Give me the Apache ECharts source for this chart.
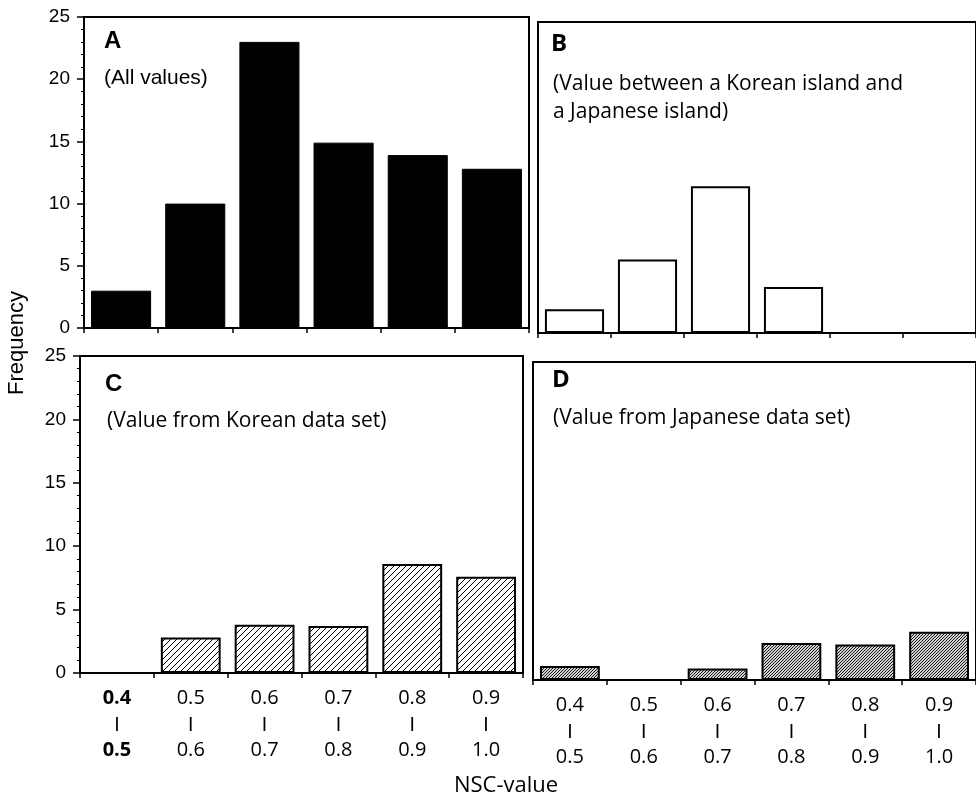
<!DOCTYPE html>
<html>
<head>
<meta charset="utf-8">
<title>NSC-value frequency</title>
<script src="https://cdn.jsdelivr.net/npm/echarts@6/dist/echarts.min.js"></script>
<style>
  html, body { margin: 0; padding: 0; background: #fff; }
  #chart { width: 976px; height: 801px; }
</style>
</head>
<body>
<div id="chart"></div>
<script type="text/javascript">
	// bins (lower / upper bound of each NSC class)
	var binLow  = ['0.4', '0.5', '0.6', '0.7', '0.8', '0.9'];
	var binHigh = ['0.5', '0.6', '0.7', '0.8', '0.9', '1.0'];
	var yTicks = [0, 5, 10, 15, 20, 25];

	// frequencies
	var allValues      = [3, 10, 23, 14.9, 13.9, 12.8];
	var betweenIslands = [1.9, 5.9, 11.8, 3.7, 0, 0];
	var koreanSet      = [0, 2.8, 3.8, 3.7, 8.6, 7.6];
	var japaneseSet    = [1.1, 0, 0.9, 2.9, 2.8, 3.8];

	var categories = binLow.map(function (v, i) { return v + '-' + binHigh[i]; });

	// hatch fills
	function hatch(size, bg, fg, lw) {
		var c = document.createElement('canvas');
		c.width = c.height = size;
		var ctx = c.getContext('2d');
		ctx.fillStyle = bg;
		ctx.fillRect(0, 0, size, size);
		ctx.strokeStyle = fg;
		ctx.lineWidth = lw;
		ctx.beginPath();
		ctx.moveTo(0, size); ctx.lineTo(size, 0);
		ctx.moveTo(-1, 1); ctx.lineTo(1, -1);
		ctx.moveTo(size - 1, size + 1); ctx.lineTo(size + 1, size - 1);
		ctx.stroke();
		return c;
	}
	var hatchKorea = { image: hatch(6, '#ffffff', '#000000', 1), repeat: 'repeat' };
	var hatchJapan = { image: hatch(3, '#d0d0d0', '#1a1a1a', 1), repeat: 'repeat' };

	var sansNum = 'Liberation Sans, Arial, sans-serif';
	var sansTxt = '"Open Sans", "Noto Sans", sans-serif';

	function xAxisFor(gridIndex, withLabels, boldFirst) {
		return {
			type: 'category',
			gridIndex: gridIndex,
			data: categories,
			axisLine: { lineStyle: { color: '#000', width: 2 } },
			axisTick: { show: true, length: 5, lineStyle: { color: '#000', width: 1.5 } },
			axisLabel: {
				show: withLabels,
				interval: 0,
				margin: 12,
				formatter: function (v, i) {
					var s = (boldFirst && i === 0) ? 'b' : 'n';
					return '{' + s + '|' + binLow[i] + '}\n{bar||}\n{' + s + '|' + binHigh[i] + '}';
				},
				rich: {
					n: { fontFamily: sansTxt, fontSize: 20, fontWeight: 500, color: '#000', lineHeight: 26 },
					b: { fontFamily: sansTxt, fontSize: 20, fontWeight: 'bold', color: '#000', lineHeight: 26 },
					bar: { fontFamily: sansNum, fontSize: 14, fontWeight: 'bold', color: '#000', lineHeight: 26 }
				}
			}
		};
	}

	function yAxisFor(gridIndex, withLabels) {
		return {
			type: 'value',
			gridIndex: gridIndex,
			min: yTicks[0],
			max: yTicks[yTicks.length - 1],
			interval: yTicks[1] - yTicks[0],
			show: withLabels,
			splitLine: { show: false },
			axisLine: { show: true, lineStyle: { color: '#000', width: 2 } },
			axisTick: { show: true, length: 7, lineStyle: { color: '#000', width: 1.5 } },
			minorTick: { show: true, splitNumber: 5, length: 3, lineStyle: { color: '#000', width: 1 } },
			axisLabel: { margin: 14, fontFamily: sansNum, fontSize: 19, color: '#000' }
		};
	}

	function barSeries(idx, data, fill, border) {
		return {
			type: 'bar',
			xAxisIndex: idx,
			yAxisIndex: idx,
			data: data,
			barCategoryGap: '19%',
			silent: true,
			itemStyle: { color: fill, borderColor: '#000', borderWidth: border }
		};
	}

	function panelText(x, y, text, font) {
		return {
			type: 'text', x: x, y: y, silent: true,
			style: { text: text, font: font, fill: '#000', textAlign: 'left', textVerticalAlign: 'middle' }
		};
	}

	var gridStyle = { show: true, borderColor: '#000', borderWidth: 2 };

	var chart = echarts.init(document.getElementById('chart'));
	var option = {
		animation: false,
		backgroundColor: '#fff',
		grid: [
			Object.assign({ left: 84, top: 17, width: 445, height: 311 }, gridStyle),
			Object.assign({ left: 538, top: 22, width: 446, height: 311 }, gridStyle),
			Object.assign({ left: 80, top: 356, width: 443, height: 317 }, gridStyle),
			Object.assign({ left: 533, top: 362, width: 443, height: 318 }, gridStyle)
		],
		xAxis: [
			xAxisFor(0, false, false),
			xAxisFor(1, false, false),
			xAxisFor(2, true, true),
			xAxisFor(3, true, false)
		],
		yAxis: [
			yAxisFor(0, true),
			yAxisFor(1, false),
			yAxisFor(2, true),
			yAxisFor(3, false)
		],
		series: [
			barSeries(0, allValues, '#000', 1),
			barSeries(1, betweenIslands, '#fff', 2),
			barSeries(2, koreanSet, hatchKorea, 2),
			barSeries(3, japaneseSet, hatchJapan, 2)
		],
		graphic: [
			panelText(104, 41, 'A', 'bold 24px Liberation Sans'),
			panelText(104, 78, '(All values)', '21px Liberation Sans'),
			panelText(551, 44, 'B', 'bold 24px "Open Sans"'),
			panelText(553, 84, '(Value between a Korean island and', '500 21px "Open Sans"'),
			panelText(553, 112, 'a Japanese island)', '500 21px "Open Sans"'),
			panelText(105, 384, 'C', 'bold 24px Liberation Sans'),
			panelText(107, 421, '(Value from Korean data set)', '500 21px "Open Sans"'),
			panelText(552, 380, 'D', 'bold 24px "Open Sans"'),
			panelText(553, 418, '(Value from Japanese data set)', '500 21px "Open Sans"'),
			{
				type: 'text', x: 17, y: 343, rotation: Math.PI / 2, silent: true,
				style: { text: 'Frequency', font: '22px Liberation Sans', fill: '#000', textAlign: 'center', textVerticalAlign: 'middle' }
			},
			{
				type: 'text', x: 506, y: 786, silent: true,
				style: { text: 'NSC-value', font: '500 22px "Open Sans"', fill: '#000', textAlign: 'center', textVerticalAlign: 'middle' }
			}
		]
	};
	chart.setOption(option);
	window.onresize = function () {
		chart.resize();
	};
</script>
</body>
</html>
